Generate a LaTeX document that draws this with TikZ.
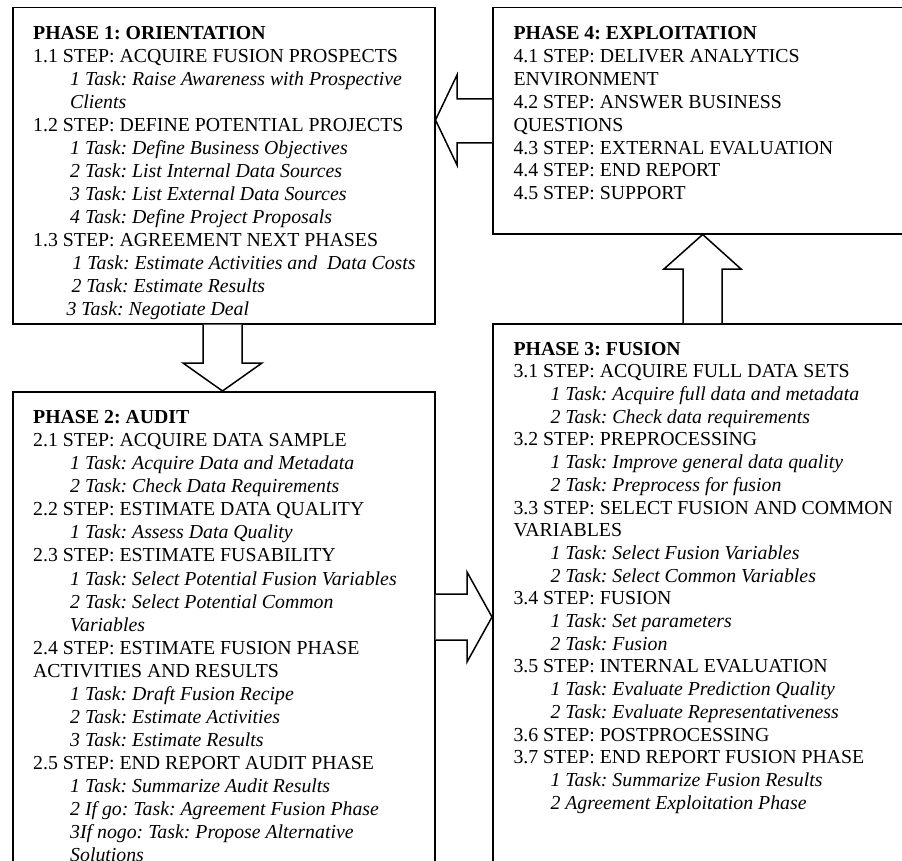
\documentclass[tikz,border=0pt]{standalone}
\usepackage{fontspec}
\setmainfont{Liberation Serif}
\frenchspacing
\newcommand\tsk[2][37pt]{\hspace*{#1}\textit{#2}}
\begin{document}
\begin{tikzpicture}[x=1pt,y=-1pt]
\tikzset{
  phasebox/.style={draw, line width=1.5pt, fill=white, anchor=north west, inner sep=0pt},
  phasetext/.style={anchor=north west, inner sep=0pt, align=left},
  blockarrow/.style={draw, line width=1.5pt, fill=white, line join=miter},
}
\useasboundingbox (0,0) rectangle (902,861);
\clip (0,0) rectangle (902,861);

% boxes
\node[phasebox, minimum width=422pt, minimum height=316pt] (p1) at (12,7) {};
\node[phasebox, minimum width=422pt, minimum height=520pt] (p2) at (12,391) {};
\node[phasebox, minimum width=440pt, minimum height=600pt] (p3) at (492,323) {};
\node[phasebox, minimum width=440pt, minimum height=226pt] (p4) at (492,7) {};

% block arrows
% Phase 4 -> Phase 1
\draw[blockarrow] (p4.west |- 0,99) -- (457,99) -- (457,75) -- (p1.east |- 0,120)
  -- (457,165) -- (457,143) -- (p4.west |- 0,143);
% Phase 1 -> Phase 2
\draw[blockarrow] (p1.south -| 203,0) -- (203,363) -- (183,363) -- (p2.north -| 222.5,0)
  -- (262,363) -- (242,363) -- (p1.south -| 242,0);
% Phase 2 -> Phase 3
\draw[blockarrow] (p2.east |- 0,594) -- (467,594) -- (467,572) -- (p3.west |- 0,617)
  -- (467,662) -- (467,640) -- (p2.east |- 0,640);
% Phase 3 -> Phase 4
\draw[blockarrow] (p3.north -| 683,0) -- (683,269) -- (664,269) -- (p4.south -| 702.7,0)
  -- (741,269) -- (722,269) -- (p3.north -| 722,0);

% texts
\begin{scope}
\clip (13,8) rectangle (433,322);
\node[phasetext, font={\fontsize{19.8}{23}\selectfont}] (t1) at (33,23.2) {%
\strut\textbf{PHASE 1: ORIENTATION}\\
\strut 1.1 STEP: ACQUIRE FUSION PROSPECTS\\
\strut\tsk{1 Task: Raise Awareness with Prospective}\\
\strut\tsk{Clients}\\
\strut 1.2 STEP: DEFINE POTENTIAL PROJECTS\\
\strut\tsk{1 Task: Define Business Objectives}\\
\strut\tsk{2 Task: List Internal Data Sources}\\
\strut\tsk{3 Task: List External Data Sources}\\
\strut\tsk{4 Task: Define Project Proposals}\\
\strut 1.3 STEP: AGREEMENT NEXT PHASES\\
\strut\tsk[39.4pt]{1 Task: Estimate Activities and\ \ Data Costs}\\
\strut\tsk[38.4pt]{2 Task: Estimate Results}\\
\strut\tsk[33.4pt]{3 Task: Negotiate Deal}};
\end{scope}

\node[phasetext, font={\fontsize{19.8}{23.07}\selectfont}] (t2) at (33,407.2) {%
\strut\textbf{PHASE 2: AUDIT}\\
\strut 2.1 STEP: ACQUIRE DATA SAMPLE\\
\strut\tsk{1 Task: Acquire Data and Metadata}\\
\strut\tsk{2 Task: Check Data Requirements}\\
\strut 2.2 STEP: ESTIMATE DATA QUALITY\\
\strut\tsk{1 Task: Assess Data Quality}\\
\strut 2.3 STEP: ESTIMATE FUSABILITY\\
\strut\tsk{1 Task: Select Potential Fusion Variables}\\
\strut\tsk{2 Task: Select Potential Common}\\
\strut\tsk{Variables}\\
\strut 2.4 STEP: ESTIMATE FUSION PHASE\\
\strut ACTIVITIES AND RESULTS\\
\strut\tsk{1 Task: Draft Fusion Recipe}\\
\strut\tsk{2 Task: Estimate Activities}\\
\strut\tsk{3 Task: Estimate Results}\\
\strut 2.5 STEP: END REPORT AUDIT PHASE\\
\strut\tsk{1 Task: Summarize Audit Results}\\
\strut\tsk{2 If go: Task: Agreement Fusion Phase}\\
\strut\tsk{3If nogo: Task: Propose Alternative}\\
\strut\tsk{Solutions}};

\node[phasetext, font={\fontsize{19.8}{22.7}\selectfont}] (t3) at (513.3,339.1) {%
\strut\textbf{PHASE 3: FUSION}\\
\strut 3.1 STEP: ACQUIRE FULL DATA SETS\\
\strut\tsk{1 Task: Acquire full data and metadata}\\
\strut\tsk{2 Task: Check data requirements}\\
\strut 3.2 STEP: PREPROCESSING\\
\strut\tsk{1 Task: Improve general data quality}\\
\strut\tsk{2 Task: Preprocess for fusion}\\
\strut 3.3 STEP: SELECT FUSION AND COMMON\\
\strut VARIABLES\\
\strut\tsk{1 Task: Select Fusion Variables}\\
\strut\tsk{2 Task: Select Common Variables}\\
\strut 3.4 STEP: FUSION\\
\strut\tsk{1 Task: Set parameters}\\
\strut\tsk{2 Task: Fusion}\\
\strut 3.5 STEP: INTERNAL EVALUATION\\
\strut\tsk{1 Task: Evaluate Prediction Quality}\\
\strut\tsk{2 Task: Evaluate Representativeness}\\
\strut 3.6 STEP: POSTPROCESSING\\
\strut 3.7 STEP: END REPORT FUSION PHASE\\
\strut\tsk{1 Task: Summarize Fusion Results}\\
\strut\tsk{2 Agreement Exploitation Phase}};

\node[phasetext, font={\fontsize{19.8}{22.9}\selectfont}] (t4) at (513.3,23.3) {%
\strut\textbf{PHASE 4: EXPLOITATION}\\
\strut 4.1 STEP: DELIVER ANALYTICS\\
\strut ENVIRONMENT\\
\strut 4.2 STEP: ANSWER BUSINESS\\
\strut QUESTIONS\\
\strut 4.3 STEP: EXTERNAL EVALUATION\\
\strut 4.4 STEP: END REPORT\\
\strut 4.5 STEP: SUPPORT};
\end{tikzpicture}
\end{document}
